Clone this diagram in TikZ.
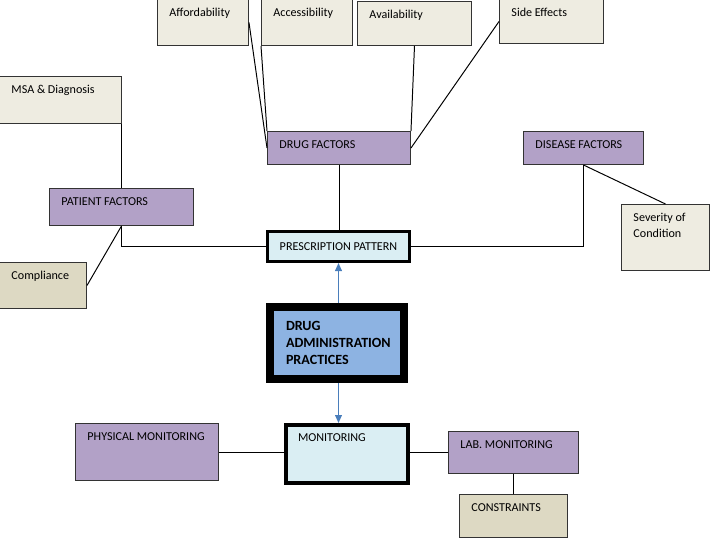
\documentclass[tikz,border=0pt]{standalone}
\usepackage{fontspec}
\setmainfont{Carlito}
\usepackage{tikz}
\usetikzlibrary{arrows.meta,positioning,calc}
\definecolor{ofbeige}{HTML}{EEECE1}
\definecolor{oftan}{HTML}{DDD9C3}
\definecolor{ofpurple}{HTML}{B2A1C7}
\definecolor{oflight}{HTML}{DAEEF3}
\definecolor{ofblue}{HTML}{8DB3E2}
\definecolor{ofarrow}{HTML}{4A7EBB}

\begin{document}
\begin{tikzpicture}[
    box/.style 2 args={rectangle, draw=black!80, line width=0.7pt, anchor=north west,
        align=flush left, font=\fontsize{8.6}{11.3}\selectfont,
        inner xsep=0.3cm, inner ysep=0.22cm, text width=#1cm-0.6cm,
        text height=0.2cm, text depth=#2cm-0.64cm},
    hub/.style={rectangle, draw=black, line width=0.075cm, fill=oflight,
        minimum width=3.55cm, minimum height=0.75cm, inner sep=0pt,
        font=\fontsize{8.6}{11.3}\selectfont},
    core/.style={rectangle, draw=black, line width=0.2cm, fill=ofblue,
        minimum width=3.35cm, minimum height=1.8cm, inner xsep=0.4cm,
        text width=2.55cm, align=flush left, font=\fontsize{10}{12}\selectfont\bfseries},
    line/.style={draw=black, line width=0.7pt},
    arr/.style={-{Triangle[length=2mm,width=1.7mm]}, line width=1pt, ofarrow}
]
    \useasboundingbox (0,0) rectangle (17.75,-13.45);

    % drug factors and its causes
    \node[box={2.275}{1.15}, fill=ofbeige] (afford) at (3.925,0.025) {Affordability};
    \node[box={2.275}{1.15}, fill=ofbeige] (access) at (6.525,0.025) {Accessibility};
    \node[box={2.85}{1.1}, fill=ofbeige]   (avail)  at (8.925,-0.025) {Availability};
    \node[box={2.6}{1.1}, fill=ofbeige]    (side)   at (12.475,0.025) {Side Effects};
    \node[box={3.575}{0.825}, fill=ofpurple] (drugf) at (6.675,-3.275) {DRUG FACTORS};

    % patient side
    \node[box={3.05}{1.175}, fill=ofbeige]  (msa)     at (-0.025,-1.9) {MSA \& Diagnosis};
    \node[box={3.6}{0.925}, fill=ofpurple]  (patient) at (1.225,-4.7) {PATIENT FACTORS};
    \node[box={2.175}{1.15}, fill=oftan]    (compl)   at (-0.025,-6.55) {Compliance};

    % disease side
    \node[box={3.0}{0.825}, fill=ofpurple] (disease) at (13.075,-3.275) {DISEASE FACTORS};
    \node[box={2.2}{1.65}, fill=ofbeige]   (sever)   at (15.525,-5.1) {Severity of\\Condition};

    % centre
    \node[hub]  (presc) at (8.4625,-6.1625) {PRESCRIPTION PATTERN};
    \node[core] (admin) at (8.425,-8.575) {DRUG\\ADMINISTRATION\\PRACTICES};

    % monitoring
    \node[box={3.05}{1.45}, fill=oflight, draw=black, line width=0.1cm] (monit) at (7.1,-10.575) {MONITORING};
    \node[box={3.575}{1.425}, fill=ofpurple] (phys)   at (1.875,-10.575) {PHYSICAL MONITORING};
    \node[box={3.25}{1.05}, fill=ofpurple]   (lab)    at (11.2,-10.775) {LAB. MONITORING};
    \node[box={2.7}{1.075}, fill=oftan]      (constr) at (11.475,-12.35) {CONSTRAINTS};

    \draw[line] (afford.east) -- (drugf.west);
    \draw[line] (access.south west) -- (drugf.north west);
    \draw[line] (avail.south) -- (drugf.north east);
    \draw[line] (side.west) -- (drugf.east);
    \draw[line] (drugf.south) -- (drugf.south |- presc.north);
    \draw[line] (msa.south east) -- (msa.south east |- patient.north);
    \draw[line] (patient.south) |- (presc.west);
    \draw[line] (patient.south) -- (compl.east);
    \draw[line] (disease.south) |- (presc.east);
    \draw[line] (disease.south) -- (sever.north);
    \draw[arr] (presc.south |- admin.north) -- (presc.south);
    \draw[arr] (presc.south |- admin.south) -- (presc.south |- monit.north);
    \draw[line] (phys.east) -- (phys.east -| monit.west);
    \draw[line] (monit.east |- lab.west) -- (lab.west);
    \draw[line] (lab.south) -- (constr.north);
\end{tikzpicture}
\end{document}
